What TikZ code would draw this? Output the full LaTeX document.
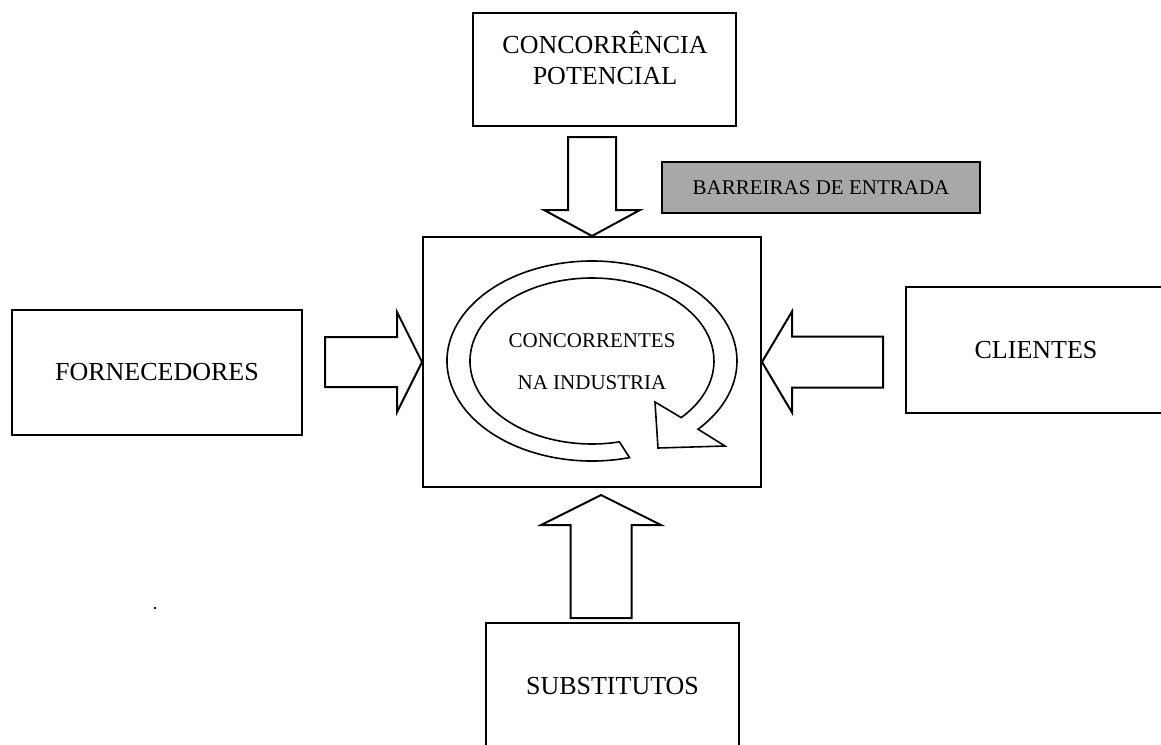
\documentclass[tikz,border=0pt]{standalone}
\usepackage{fontspec}
\setmainfont{Liberation Serif}
\usetikzlibrary{calc}
\definecolor{barrgray}{RGB}{168,168,168}
\tikzset{
  box/.style={draw, line width=2pt, fill=white, inner sep=0pt},
  bigtxt/.style={font=\fontsize{26}{31}\selectfont, align=center, inner sep=0pt},
  smalltxt/.style={font=\fontsize{21}{42}\selectfont, align=center},
  bashaft/.store in=\bashaft, bahead/.store in=\bahead, balen/.store in=\balen,
  bashaft=25pt, bahead=50pt, balen=28pt,
  blockarrow/.style={draw, line width=2pt, fill=white, line join=miter,
    to path={
      coordinate (bahd) at ($(\tikztotarget)!\balen!(\tikztostart)$)
      ($(\tikztostart)!\bashaft!90:(\tikztotarget)$)
      -- ($(bahd)!\bashaft!-90:(\tikztostart)$)
      -- ($(bahd)!\bahead!-90:(\tikztostart)$)
      -- (\tikztotarget)
      -- ($(bahd)!\bahead!90:(\tikztostart)$)
      -- ($(bahd)!\bashaft!90:(\tikztostart)$)
      -- ($(\tikztostart)!\bashaft!-90:(\tikztotarget)$)
      -- cycle}},
  band/.style={draw, line width=1.6pt, line join=miter}
}
\begin{document}
\begin{tikzpicture}[x=1pt, y=-1pt]
\path[use as bounding box] (0,0) rectangle (1161,744);
\fill[white] (0,0) rectangle (1161,744);
\clip (0,0) rectangle (1161,744);

% boxes
\node[box, minimum width=263pt, minimum height=113pt] (cp) at (604.5,69.5) {};
\node[bigtxt] (cpt) at (605,57.5) {CONCORRÊNCIA\\POTENCIAL};
\node[box, minimum width=290pt, minimum height=125pt, bigtxt] (forn) at (157,372.5) {FORNECEDORES};
\node[box, minimum width=260pt, minimum height=126pt, bigtxt] (cli) at (1036,350) {CLIENTES};
\node[box, minimum width=253pt, minimum height=126pt, bigtxt] (subs) at (612.5,686) {SUBSTITUTOS};
\node[box, minimum width=318pt, minimum height=51pt, fill=barrgray, line width=1.6pt,
      font=\fontsize{21}{25}\selectfont] (barr) at (821,187.5) {BARREIRAS DE ENTRADA};
\node[box, minimum width=338pt, minimum height=250pt, smalltxt] (ci) at (592,362) {CONCORRENTES\\NA INDUSTRIA};

% circular arrow
\draw[band] (629.5,457.6)
  arc[start angle=75, end angle=403, x radius=145, y radius=100]
  -- (725,446) -- (658,448) -- (655,402)
  -- (681.2,417.6)
  arc[start angle=403, end angle=77, x radius=122, y radius=83]
  -- cycle;

% block arrows
\coordinate (ta) at (592,137);
\coordinate (la) at (325,362);
\coordinate (ra) at (883,362);
\coordinate (bb) at (601,618);
\coordinate (bt) at (601,495);
\draw[blockarrow, bashaft=24pt, bahead=48pt, balen=26pt] (ta) to (ci.north);
\draw[blockarrow, bashaft=25pt, bahead=50pt, balen=25pt] (la) to (ci.west);
\draw[blockarrow, bashaft=25.5pt, bahead=50.5pt, balen=30pt] (ra) to (ci.east);
\draw[blockarrow, bashaft=30.5pt, bahead=60pt, balen=30pt] (bb) to (bt);

% stray dot
\fill (155,608) circle (1.3);
\end{tikzpicture}
\end{document}
